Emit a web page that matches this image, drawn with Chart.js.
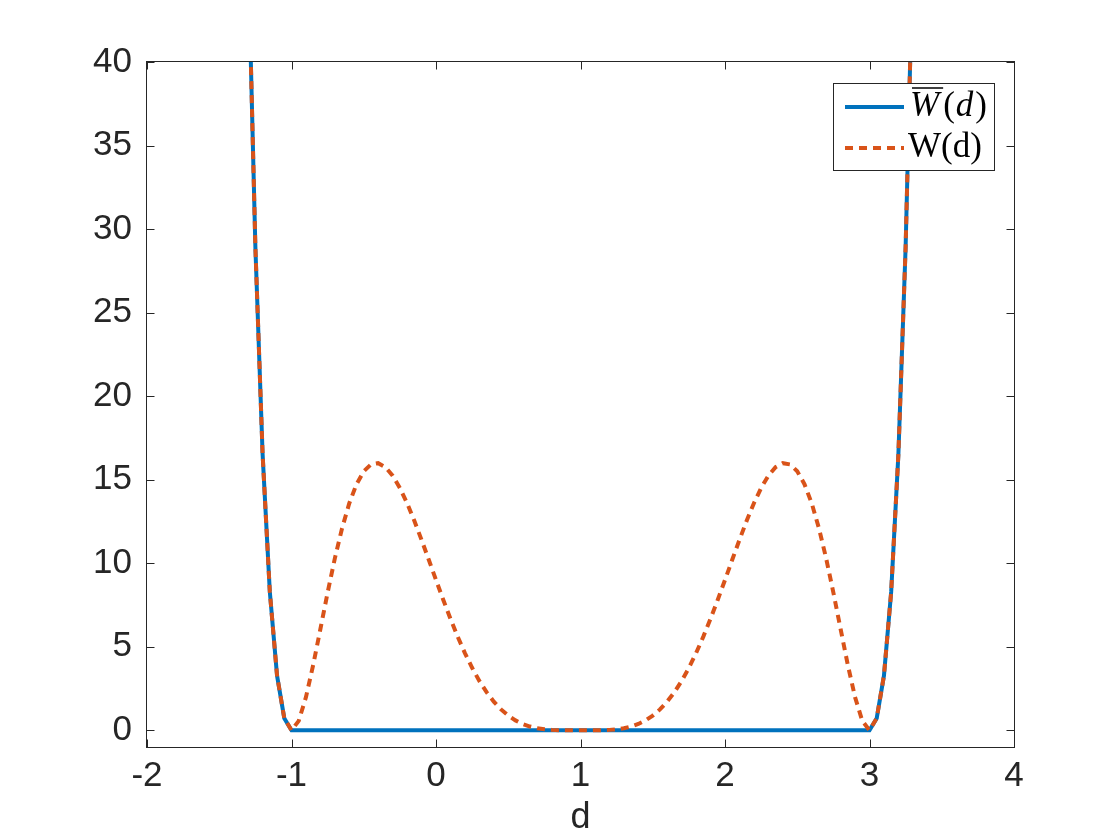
<!DOCTYPE html>
<html>
<head>
<meta charset="utf-8">
<script src="https://cdn.jsdelivr.net/npm/chart.js@4/dist/chart.umd.min.js"></script>
<style>
  body { margin: 0; background: #fff; }
  canvas { display: block; }
</style>
</head>
<body>
<canvas id="wChart" width="1120" height="840"></canvas>
<script>
// d samples and W(d)
const dValues = [
  -1.35, -1.30, -1.25, -1.20, -1.15, -1.10, -1.05, -1.00, -0.95, -0.90,
  -0.85, -0.80, -0.75, -0.70, -0.65, -0.60, -0.55, -0.50, -0.45, -0.40,
  -0.35, -0.30, -0.25, -0.20, -0.15, -0.10, -0.05, 0.00, 0.05, 0.10,
  0.15, 0.20, 0.25, 0.30, 0.35, 0.40, 0.45, 0.50, 0.55, 0.60,
  0.65, 0.70, 0.75, 0.80, 0.85, 0.90, 0.95, 1.00, 1.05, 1.10,
  1.15, 1.20, 1.25, 1.30, 1.35, 1.40, 1.45, 1.50, 1.55, 1.60,
  1.65, 1.70, 1.75, 1.80, 1.85, 1.90, 1.95, 2.00, 2.05, 2.10,
  2.15, 2.20, 2.25, 2.30, 2.35, 2.40, 2.45, 2.50, 2.55, 2.60,
  2.65, 2.70, 2.75, 2.80, 2.85, 2.90, 2.95, 3.00, 3.05, 3.10,
  3.15, 3.20, 3.25, 3.30, 3.35
];
const wValues = [
  70.69, 46.57, 28.93, 16.53, 8.28, 3.27, 0.724, 0, 0.564, 1.982,
  3.907, 6.063, 8.243, 10.291, 12.096, 13.590, 14.730, 15.504, 15.916, 15.987,
  15.749, 15.241, 14.505, 13.590, 12.539, 11.397, 10.205, 9.000, 7.815, 6.677,
  5.607, 4.624, 3.739, 2.958, 2.285, 1.717, 1.251, 0.879, 0.591, 0.378,
  0.226, 0.124, 0.061, 0.025, 0.008, 0.002, 0.000, 0, 0.000, 0.002,
  0.008, 0.025, 0.061, 0.124, 0.226, 0.378, 0.591, 0.879, 1.251, 1.717,
  2.285, 2.958, 3.739, 4.624, 5.607, 6.677, 7.815, 9.000, 10.205, 11.397,
  12.539, 13.590, 14.505, 15.241, 15.749, 15.987, 15.916, 15.504, 14.730, 13.590,
  12.096, 10.291, 8.243, 6.063, 3.907, 1.982, 0.564, 0, 0.724, 3.27,
  8.28, 16.53, 28.93, 46.57, 70.69
];
// W-bar: zero between -1 and 3, same as W outside
const wBarD = [-1.35, -1.30, -1.25, -1.20, -1.15, -1.10, -1.05, -1.00,
               3.00, 3.05, 3.10, 3.15, 3.20, 3.25, 3.30, 3.35];
const wBarValues = [70.69, 46.57, 28.93, 16.53, 8.28, 3.27, 0.724, 0,
                    0, 0.724, 3.27, 8.28, 16.53, 28.93, 46.57, 70.69];

const xTicks = [-2, -1, 0, 1, 2, 3, 4];
const yTicks = [0, 5, 10, 15, 20, 25, 30, 35, 40];

const AXIS_COLOR = '#262626';
const SANS = "'Liberation Sans', Helvetica, Arial, sans-serif";
const SERIF = "'Liberation Serif', 'DejaVu Serif', serif";
const BLUE = '#0072BD';
const ORANGE = '#D95319';

// box + inward ticks like matlab
const boxPlugin = {
  id: 'box',
  beforeDatasetsDraw(chart) {
    const { ctx, chartArea: a, scales } = chart;
    const L = Math.round(a.left) - 0.5, R = Math.round(a.right) + 0.5;
    const T = Math.round(a.top) - 0.5, B = Math.round(a.bottom) + 0.5;
    ctx.save();
    ctx.strokeStyle = AXIS_COLOR;
    ctx.lineWidth = 1;
    ctx.strokeRect(L, T, R - L, B - T);
    ctx.beginPath();
    xTicks.forEach(v => {
      const px = Math.round(scales.x.getPixelForValue(v)) + 0.5;
      ctx.moveTo(px, B); ctx.lineTo(px, B - 8);
      ctx.moveTo(px, T); ctx.lineTo(px, T + 8);
    });
    yTicks.forEach(v => {
      const py = Math.round(scales.y.getPixelForValue(v)) + 0.5;
      ctx.moveTo(L, py); ctx.lineTo(L + 8, py);
      ctx.moveTo(R, py); ctx.lineTo(R - 8, py);
    });
    ctx.stroke();
    ctx.restore();
  }
};

const legendPlugin = {
  id: 'boxLegend',
  afterDraw(chart) {
    const ctx = chart.ctx;
    const x0 = 833.5, y0 = 83.5, w = 161, h = 87;
    ctx.save();
    ctx.fillStyle = '#fff';
    ctx.fillRect(x0, y0, w, h);
    ctx.strokeStyle = AXIS_COLOR;
    ctx.lineWidth = 1;
    ctx.strokeRect(x0, y0, w, h);

    // sample lines
    ctx.lineWidth = 4;
    ctx.strokeStyle = BLUE;
    ctx.beginPath(); ctx.moveTo(845, 107); ctx.lineTo(904, 107); ctx.stroke();
    ctx.strokeStyle = ORANGE;
    ctx.setLineDash([8, 6]);
    ctx.beginPath(); ctx.moveTo(845, 148); ctx.lineTo(904, 148); ctx.stroke();
    ctx.setLineDash([]);

    // labels
    ctx.fillStyle = '#000';
    ctx.textBaseline = 'alphabetic';
    ctx.textAlign = 'left';
    const ds = chart.data.datasets;
    const barLabel = ds[1].label;   // W with overline, drawn italic
    let x = 910;
    ctx.font = 'italic 35px ' + SERIF;
    const wW = ctx.measureText(barLabel[0]).width;
    ctx.fillText(barLabel[0], x, 116);
    ctx.strokeStyle = '#000';
    ctx.lineWidth = 1.5;
    ctx.beginPath(); ctx.moveTo(x + 2, 88); ctx.lineTo(x + wW + 4, 88); ctx.stroke();
    x += wW + 4;
    ctx.font = '35px ' + SERIF;
    ctx.fillText('(', x, 116); x += ctx.measureText('(').width + 1;
    ctx.font = 'italic 35px ' + SERIF;
    ctx.fillText('d', x, 116); x += ctx.measureText('d').width + 2;
    ctx.font = '35px ' + SERIF;
    ctx.fillText(')', x, 116);

    ctx.font = '35px ' + SERIF;
    ctx.fillText(ds[0].label, 908, 157);
    ctx.restore();
  }
};

new Chart(document.getElementById('wChart'), {
  type: 'line',
  data: {
    datasets: [
      {
        label: 'W(d)',
        data: dValues.map((d, i) => ({ x: d, y: wValues[i] })),
        borderColor: ORANGE,
        borderWidth: 4,
        borderDash: [8, 6],
        pointRadius: 0,
        tension: 0,
        fill: false,
        clip: 0
      },
      {
        label: 'W(d)',
        data: wBarD.map((d, i) => ({ x: d, y: wBarValues[i] })),
        borderColor: BLUE,
        borderWidth: 4,
        pointRadius: 0,
        tension: 0,
        fill: false,
        clip: 0
      }
    ]
  },
  options: {
    responsive: false,
    devicePixelRatio: 1,
    animation: false,
    layout: { padding: { top: 62, right: 106, left: 0, bottom: 0 } },
    plugins: {
      legend: { display: false },
      tooltip: { enabled: false }
    },
    scales: {
      x: {
        type: 'linear',
        min: -2,
        max: 4,
        grid: { display: false, drawTicks: false, tickLength: 0 },
        border: { display: false },
        afterBuildTicks: s => { s.ticks = xTicks.map(v => ({ value: v })); },
        afterFit: s => { s.height = 93; },
        ticks: {
          font: { family: SANS, size: 35 },
          color: AXIS_COLOR,
          padding: 8,
          maxRotation: 0,
          autoSkip: false
        },
        title: {
          display: true,
          text: 'd',
          font: { family: SANS, size: 36 },
          color: AXIS_COLOR,
          padding: { top: 0, bottom: 0 }
        }
      },
      y: {
        type: 'linear',
        min: -1,
        max: 40,
        grid: { display: false, drawTicks: false, tickLength: 0 },
        border: { display: false },
        afterBuildTicks: s => { s.ticks = yTicks.map(v => ({ value: v })); },
        afterFit: s => { s.width = 147; },
        ticks: {
          font: { family: SANS, size: 35 },
          color: AXIS_COLOR,
          padding: 15,
          autoSkip: false
        }
      }
    }
  },
  plugins: [boxPlugin, legendPlugin]
});
</script>
</body>
</html>
